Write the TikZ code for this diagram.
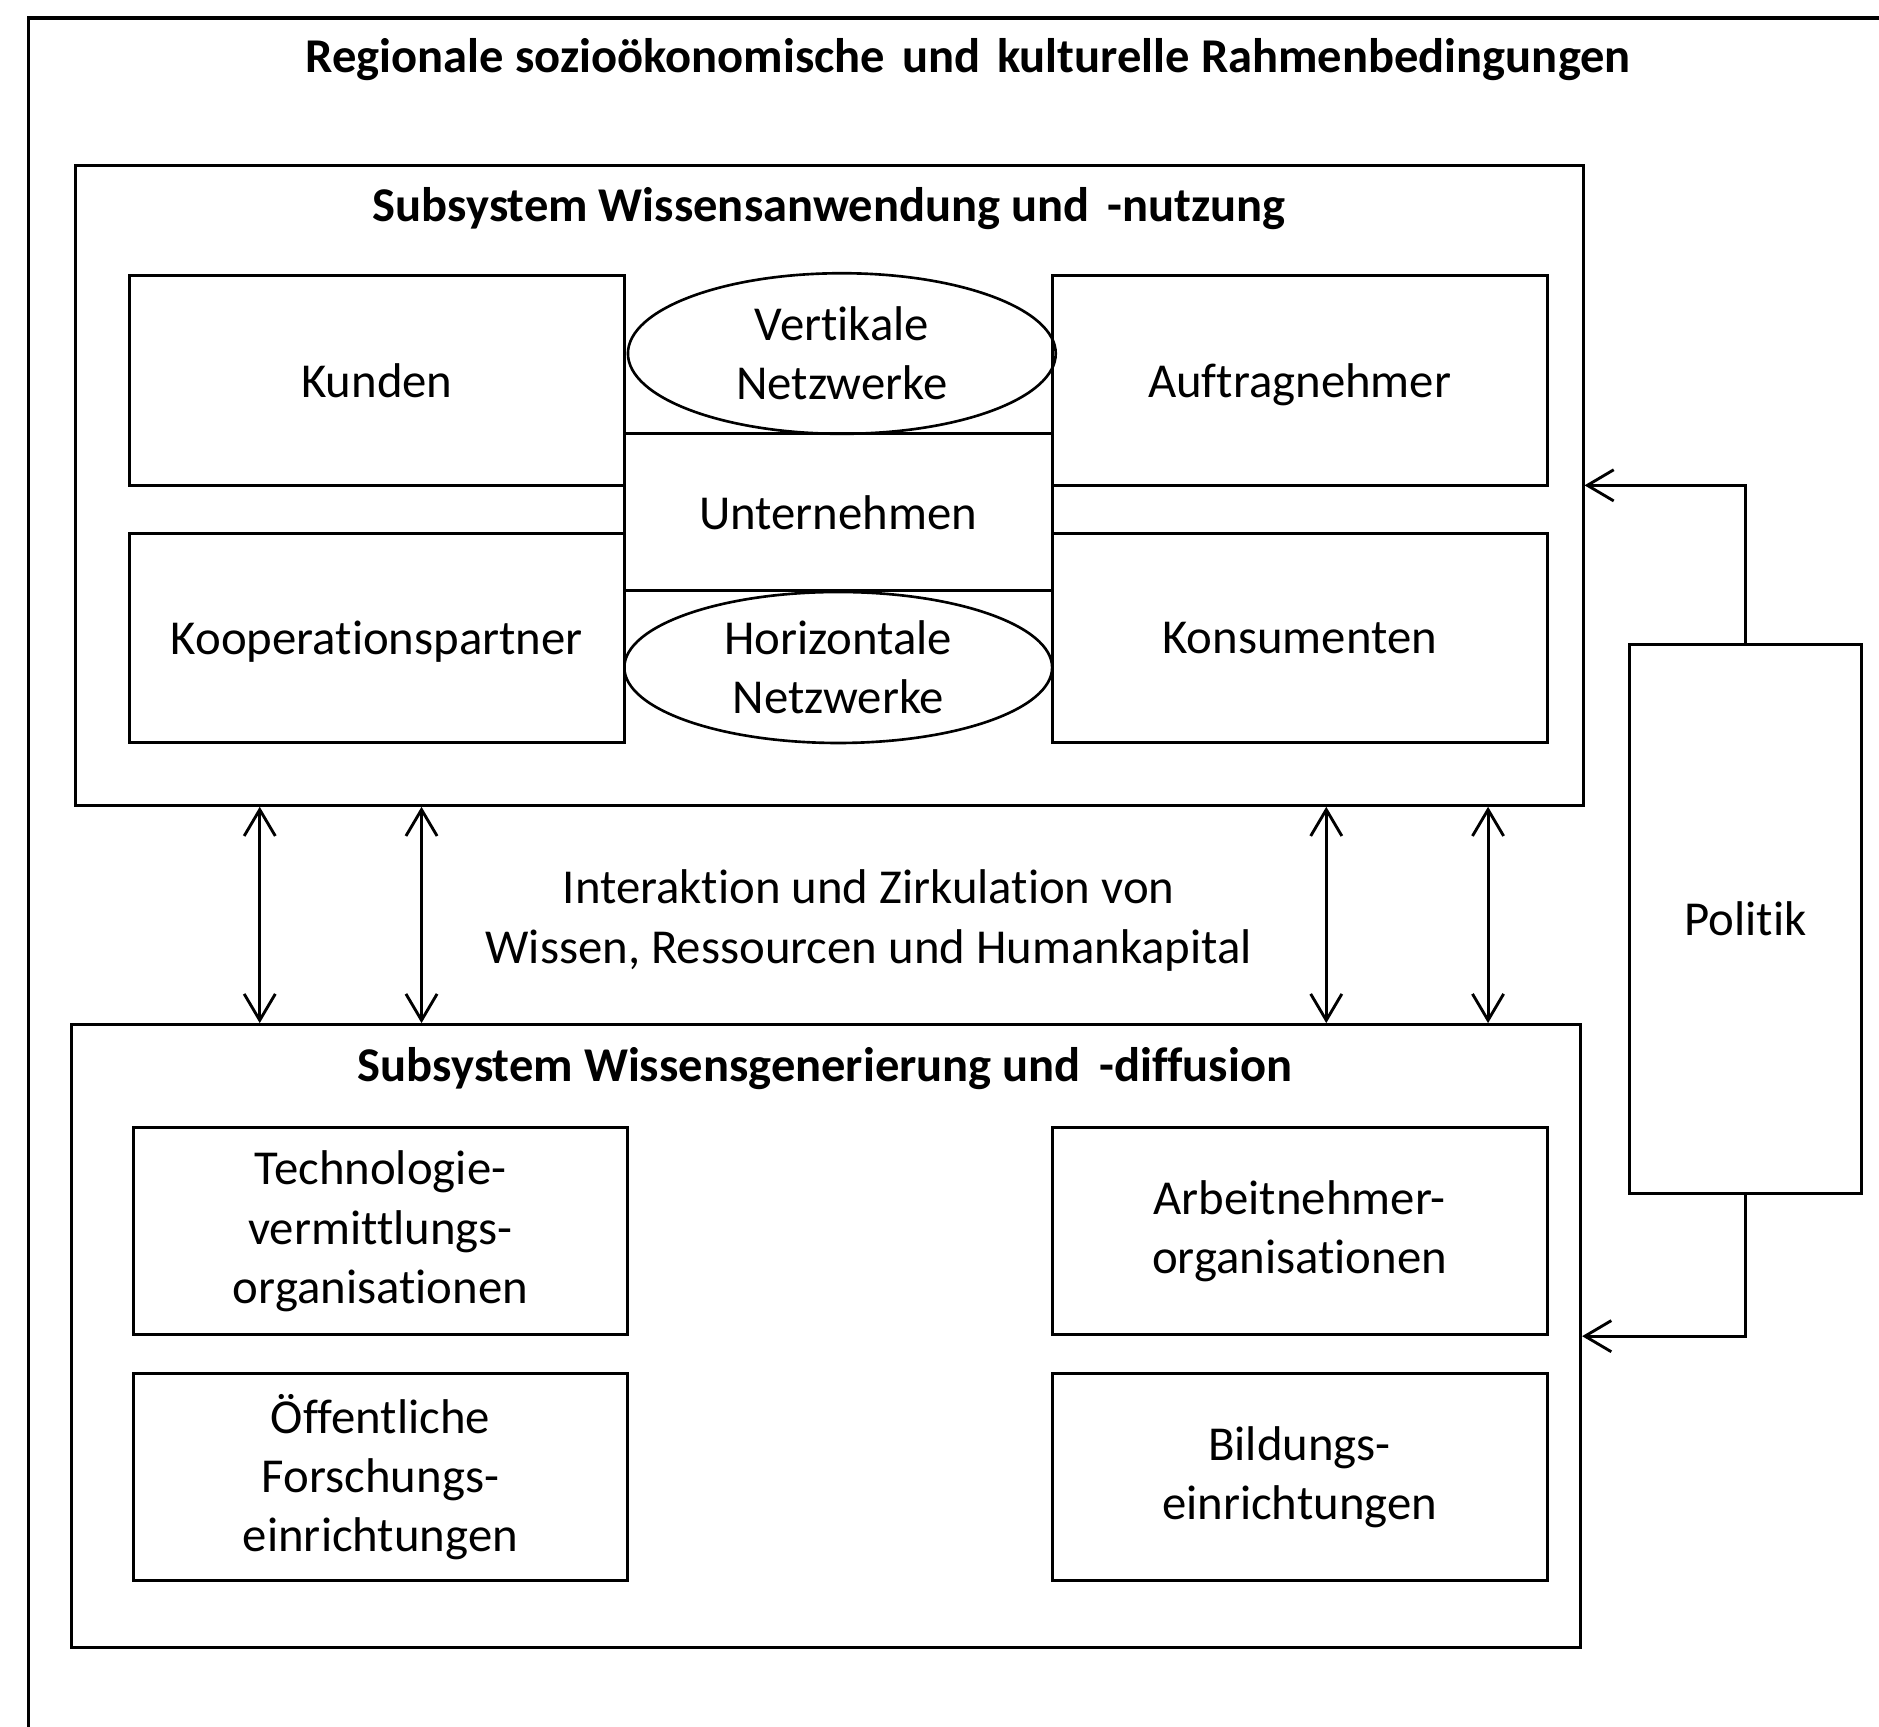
\documentclass[tikz,border=0pt]{standalone}
\usepackage{fontspec}
\setmainfont[Ligatures={NoCommon}]{Carlito}
\usetikzlibrary{arrows.meta,calc,shapes.geometric}
\begin{document}
\begin{tikzpicture}[x=1pt,y=-1pt,
  every node/.style={font=\fontsize{40.7}{49.5}\selectfont, align=center, inner sep=0pt},
  box/.style={draw, line width=2.5pt, minimum width=413pt, minimum height=175pt},
  subsys/.style={draw, line width=2.5pt},
  netz/.style={draw, ellipse, line width=2.2pt, inner sep=0pt},
  titel/.style={font=\bfseries\fontsize{40.5}{49.5}\selectfont},
  dbl/.style={line width=2.4pt, {Straight Barb[length=22pt,width=26pt,line width=2.4pt]}-{Straight Barb[length=22pt,width=26pt,line width=2.4pt]}},
  arr/.style={line width=2.4pt, -{Straight Barb[length=22pt,width=26pt,line width=2.4pt]}}
]
\useasboundingbox (0,0) rectangle (1568,1441);
% outer frame (right and bottom sides lie beyond the picture)
\coordinate (fbl) at (24,1441);
\coordinate (ftl) at (24,15);
\coordinate (ftr) at (1568,15);
\draw[line width=2.9pt] (fbl) -- (ftl) -- (ftr);
\node[titel] (maintitle) at (808,50) {Regionale sozioökonomische\hspace{0.12em} und\hspace{0.12em} kulturelle Rahmenbedingungen};

% top subsystem
\node[subsys, minimum width=1258pt, minimum height=534pt] (topbox) at (692,405) {};
\node[titel] (toptitle) at (692,174) {Subsystem Wissensanwendung und\hspace{0.15em} -nutzung};
\node[box] (kunden) at (314.5,317.5) {Kunden};
\node[box, text depth=0pt] (auftrag) at (1084.5,317.5) {Auftragnehmer};
\node[box, text depth=0pt] (koop) at (314.5,532.5) {Kooperationspartner};
\node[box] (konsum) at (1084.5,532.5) {Konsumenten};
\node[draw, line width=2.5pt, minimum width=357pt, minimum height=131pt] (unter) at (699.5,427.5) {Unternehmen};
\node[netz, minimum width=357pt, minimum height=134pt] (vert) at (702.5,295) {Vertikale\\Netzwerke};
\node[netz, minimum width=357pt, minimum height=126pt] (hori) at (699.5,557) {Horizontale\\Netzwerke};

% bottom subsystem
\node[subsys, minimum width=1259pt, minimum height=520pt] (botbox) at (689.5,1115) {};
\node[titel] (bottitle) at (688.5,892) {Subsystem Wissensgenerierung und\hspace{0.15em} -diffusion};
\node[box, minimum height=173pt] (techno) at (317.5,1027.5) {Technologie-\\vermittlungs-\\organisationen};
\node[box, minimum height=173pt] (oeff) at (317.5,1232.5) {Öffentliche\\Forschungs-\\einrichtungen};
\node[box, minimum height=173pt] (arbeit) at (1084.5,1027.5) {Arbeitnehmer-\\organisationen};
\node[box, minimum height=173pt] (bildung) at (1084.5,1232.5) {Bildungs-\\einrichtungen};

% interaction
\node (inter) at (725,768) {Interaktion und Zirkulation von\\Wissen, Ressourcen und Humankapital};
\draw[dbl] ($(topbox.south west)+(155,0)$) -- ($(botbox.north west)+(158,0)$);
\draw[dbl] ($(topbox.south west)+(290,0)$) -- ($(botbox.north west)+(293,0)$);
\draw[dbl] ($(topbox.south west)+(1045,0)$) -- ($(botbox.north west)+(1048,0)$);
\draw[dbl] ($(topbox.south west)+(1180,0)$) -- ($(botbox.north west)+(1183,0)$);

% Politik
\node[draw, line width=2.5pt, minimum width=193pt, minimum height=458pt] (politik) at (1456.5,767) {Politik};
\draw[arr] (politik.north) |- (topbox.east);
\draw[arr] (politik.south) |- (botbox.east);
\end{tikzpicture}
\end{document}
